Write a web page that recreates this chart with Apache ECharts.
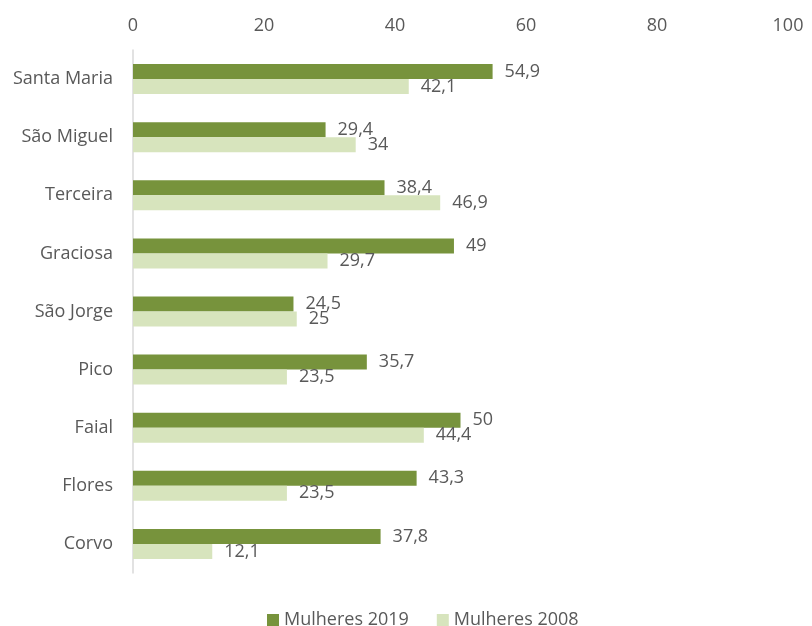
<!DOCTYPE html>
<html>
<head>
<meta charset="utf-8">
<style>
  html, body { margin: 0; padding: 0; background: #fff; }
  #chart { width: 812px; height: 626px; }
</style>
<script src="https://cdn.jsdelivr.net/npm/echarts@6/dist/echarts.min.js"></script>
</head>
<body>
<div id="chart"></div>
<script>
// Islands of the Azores, top to bottom
const islands = ['Santa Maria', 'São Miguel', 'Terceira', 'Graciosa', 'São Jorge', 'Pico', 'Faial', 'Flores', 'Corvo'];
const women2019 = [54.9, 29.4, 38.4, 49, 24.5, 35.7, 50, 43.3, 37.8];
const women2008 = [42.1, 34, 46.9, 29.7, 25, 23.5, 44.4, 23.5, 12.1];
const seriesNames = ['Mulheres 2019', 'Mulheres 2008'];
const xTicks = { min: 0, max: 100, interval: 20 };

const FONT = 'Open Sans';
const TEXT = '#595959';
const SIZE = 18;

const fmt = v => String(v).replace('.', ',');

const chart = echarts.init(document.getElementById('chart'), null, { renderer: 'canvas' });

chart.setOption({
  animation: false,
  textStyle: { fontFamily: FONT },
  grid: { left: 133, right: 24, top: 50, bottom: 53, containLabel: false },
  legend: {
    top: 606,
    left: 262,
    itemWidth: 12,
    itemHeight: 12,
    itemGap: 28,
    icon: 'rect',
    textStyle: { color: TEXT, fontSize: SIZE, fontFamily: FONT },
    data: seriesNames
  },
  xAxis: {
    type: 'value',
    position: 'top',
    min: xTicks.min,
    max: xTicks.max,
    interval: xTicks.interval,
    axisLine: { show: false },
    axisTick: { show: false },
    splitLine: { show: false },
    axisLabel: { color: TEXT, fontSize: SIZE, margin: 15, fontFamily: FONT }
  },
  yAxis: {
    type: 'category',
    data: islands,
    inverse: true,
    axisLine: { show: true, lineStyle: { color: '#d9d9d9', width: 1.5 } },
    axisTick: { show: false },
    axisLabel: { color: TEXT, fontSize: SIZE, margin: 20, fontFamily: FONT }
  },
  series: [
    {
      name: seriesNames[0],
      type: 'bar',
      data: women2019,
      barWidth: 15,
      barGap: '0%',
      itemStyle: { color: '#77933c' },
      label: {
        show: true, position: 'right', distance: 12,
        color: TEXT, fontSize: SIZE, fontFamily: FONT,
        formatter: p => fmt(p.value)
      }
    },
    {
      name: seriesNames[1],
      type: 'bar',
      data: women2008,
      barWidth: 15,
      barGap: '0%',
      itemStyle: { color: '#d7e4bd' },
      label: {
        show: true, position: 'right', distance: 12,
        color: TEXT, fontSize: SIZE, fontFamily: FONT,
        formatter: p => fmt(p.value)
      }
    }
  ]
});
</script>
</body>
</html>
